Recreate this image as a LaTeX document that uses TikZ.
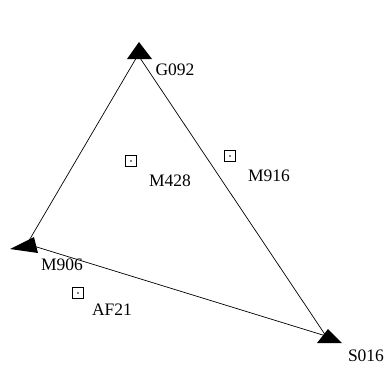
\documentclass[tikz,border=0pt]{standalone}
\usepackage{fontspec}
\setmainfont{Liberation Serif}
\begin{document}
\begin{tikzpicture}[x=1pt,y=-1pt,
  lbl/.style={font=\fontsize{17.5}{18}\selectfont, inner sep=0pt},
  pt/.style={draw, line width=0.9pt, minimum size=11pt, inner sep=0pt},
  edge/.style={line width=0.7pt},
  stmark/.style={fill=black, draw=none}]
\useasboundingbox (0,0) rectangle (386,367);
% stations
\coordinate (G) at (138,55);
\coordinate (M) at (27,244);
\coordinate (S) at (326,336);
% connectors
\draw[edge] (G) -- (M);
\draw[edge] (M) -- (S);
\draw[edge] (G) -- (S);
% station markers
\fill[stmark] (139,42) -- (152,59) -- (127,59) -- cycle;
\fill[stmark] (10,249) -- (34,237) -- (38,253) -- cycle;
\fill[stmark] (328,329) -- (342,343) -- (317,343) -- cycle;
% point markers
\node[pt] (p1) at (131,161) {};
\fill (p1) circle (0.8pt);
\node[pt] (p2) at (230,156) {};
\fill (p2) circle (0.8pt);
\node[pt] (p3) at (78,293) {};
\fill (p3) circle (0.8pt);
% labels
\node[lbl] (lG) at (175,70) {G092};
\node[lbl] (l1) at (170,181) {M428};
\node[lbl] (l2) at (269,176) {M916};
\node[lbl] (lM) at (62,265) {M906};
\node[lbl] (l3) at (112,310) {AF21};
\node[lbl] (lS) at (366,356) {S016};
\end{tikzpicture}
\end{document}
